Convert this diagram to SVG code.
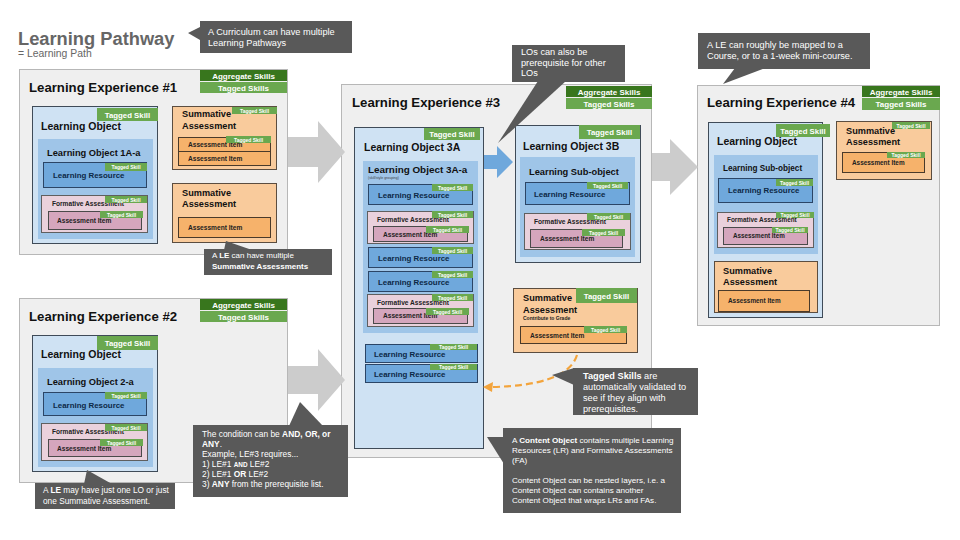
<svg xmlns="http://www.w3.org/2000/svg" width="960" height="540" viewBox="0 0 960 540">
<style>
text{font-family:"Liberation Sans",Arial,Helvetica,sans-serif}
.le{fill:#efefef;stroke:#b7b7b7;stroke-width:1}
.lo{fill:#cfe2f3;stroke:#3f4b58;stroke-width:1}
.sub{fill:#9fc5e8}
.lr{fill:#6fa8dc;stroke:#2b4566;stroke-width:1}
.fa{fill:#ead1dc;stroke:#5f5f5f;stroke-width:1}
.fai{fill:#d5a6bd;stroke:#4a4a4a;stroke-width:1}
.sa{fill:#f9cb9c;stroke:#5b4d40;stroke-width:1}
.sai{fill:#f6b26b;stroke:#4a3a2a;stroke-width:1}
.tg{fill:#6aa84f}
.ag{fill:#38761d}
.co{fill:#595959}
.arr{fill:#cccccc}
.h1{font-size:13.2px;font-weight:bold;fill:#111}
.lot{font-size:10.5px;font-weight:bold;fill:#111}
.subt{font-size:9.3px;font-weight:bold;fill:#111}
.lrt{font-size:7.9px;font-weight:bold;fill:#0d2846}
.fat{font-size:6.6px;font-weight:bold;fill:#222}
.sat{font-size:9.2px;font-weight:bold;fill:#111}
.tgs{font-size:5px;font-weight:bold;fill:#fff;text-anchor:middle}
.tgl{font-size:7.8px;font-weight:bold;fill:#fff;text-anchor:middle}
.sk{font-size:8px;font-weight:bold;fill:#fff;text-anchor:middle}
.ct{font-size:9.2px;fill:#fff}
.cs{font-size:8.3px;fill:#fff}
.bd{font-weight:bold}
</style>

<g id="title">
<text x="18" y="45" style="font-size:18.3px;font-weight:bold;fill:#666">Learning Pathway</text>
<text x="18" y="57" style="font-size:10.4px;fill:#666">= Learning Path</text>
</g>

<!-- Learning Experience #1 -->
<g id="le1">
<rect class="le" x="19.5" y="69.5" width="268" height="185"/>
<rect class="ag" x="200" y="70" width="87" height="11"/>
<text class="sk" x="243.5" y="78.5">Aggregate Skills</text>
<rect class="tg" x="200" y="82" width="87" height="11"/>
<text class="sk" x="243.5" y="90.5">Tagged Skills</text>
<text class="h1" x="29" y="92">Learning Experience #1</text>
</g>
<g id="le1-lo">
<rect class="lo" x="32.5" y="106.5" width="125" height="137"/>
<rect class="tg" x="97" y="108" width="61" height="13"/>
<text class="tgl" x="127.5" y="117.5">Tagged Skill</text>
<text class="lot" x="41" y="130">Learning Object</text>
<rect class="sub" x="38" y="139" width="115" height="100"/>
<text class="subt" x="47" y="156">Learning Object 1A-a</text>
<rect class="lr" x="43.5" y="162.5" width="103" height="25"/>
<rect class="tg" x="105" y="163" width="42" height="8"/>
<text class="tgs" x="126" y="169">Tagged Skill</text>
<text class="lrt" x="53" y="178">Learning Resource</text>
<rect class="fa" x="41.5" y="195.5" width="106" height="37"/>
<text class="fat" x="52" y="206">Formative Assessment</text>
<rect class="tg" x="105" y="196" width="42" height="7"/>
<text class="tgs" x="126" y="201.5">Tagged Skill</text>
<rect class="fai" x="48.5" y="211.5" width="93" height="18"/>
<text class="fat" x="57" y="223">Assessment Item</text>
<rect class="tg" x="100" y="211" width="43" height="7"/>
<text class="tgs" x="121.5" y="216.5">Tagged Skill</text>
</g>
<g id="le1-sa1">
<rect class="sa" x="172.5" y="106.5" width="104" height="63"/>
<rect class="tg" x="232" y="107" width="45" height="7"/>
<text class="tgs" x="254.5" y="112.5">Tagged Skill</text>
<text class="sat" x="182" y="117">Summative</text>
<text class="sat" x="182" y="129">Assessment</text>
<rect class="sai" x="178.5" y="137.5" width="92" height="14"/>
<text class="fat" x="188" y="147">Assessment Item</text>
<rect class="tg" x="226" y="136" width="45" height="7"/>
<text class="tgs" x="248.5" y="141.5">Tagged Skill</text>
<rect class="sai" x="178.5" y="151.5" width="92" height="14"/>
<text class="fat" x="188" y="161">Assessment Item</text>
</g>
<g id="le1-sa2">
<rect class="sa" x="172.5" y="183.5" width="104" height="59"/>
<text class="sat" x="182" y="196">Summative</text>
<text class="sat" x="182" y="207">Assessment</text>
<rect class="sai" x="178.5" y="217.5" width="92" height="20"/>
<text class="fat" x="188" y="230">Assessment Item</text>
</g>

<!-- Learning Experience #2 -->
<g id="le2">
<rect class="le" x="19.5" y="298.5" width="268" height="184"/>
<rect class="ag" x="200" y="299" width="87" height="11"/>
<text class="sk" x="243.5" y="307.5">Aggregate Skills</text>
<rect class="tg" x="200" y="311" width="87" height="11"/>
<text class="sk" x="243.5" y="319.5">Tagged Skills</text>
<text class="h1" x="29" y="321">Learning Experience #2</text>
</g>
<g id="le2-lo">
<rect class="lo" x="32.5" y="335.5" width="125" height="136"/>
<rect class="tg" x="97" y="336" width="61" height="14"/>
<text class="tgl" x="127.5" y="346">Tagged Skill</text>
<text class="lot" x="41" y="358">Learning Object</text>
<rect class="sub" x="38" y="368" width="115" height="99"/>
<text class="subt" x="47" y="385">Learning Object 2-a</text>
<rect class="lr" x="43.5" y="392.5" width="103" height="23"/>
<rect class="tg" x="105" y="392" width="42" height="7"/>
<text class="tgs" x="126" y="397.5">Tagged Skill</text>
<text class="lrt" x="53" y="408">Learning Resource</text>
<rect class="fa" x="41.5" y="423.5" width="106" height="37"/>
<text class="fat" x="52" y="434">Formative Assessment</text>
<rect class="tg" x="105" y="424" width="42" height="7"/>
<text class="tgs" x="126" y="429.5">Tagged Skill</text>
<rect class="fai" x="48.5" y="439.5" width="93" height="17"/>
<text class="fat" x="57" y="451">Assessment Item</text>
<rect class="tg" x="100" y="439" width="43" height="7"/>
<text class="tgs" x="121.5" y="444.5">Tagged Skill</text>
</g>

<!-- Learning Experience #3 -->
<g id="le3">
<rect class="le" x="341.5" y="84.5" width="310" height="373"/>
<rect class="ag" x="566" y="86" width="86" height="11"/>
<text class="sk" x="609" y="94.5">Aggregate Skills</text>
<rect class="tg" x="566" y="98" width="86" height="11"/>
<text class="sk" x="609" y="106.5">Tagged Skills</text>
<text class="h1" x="352" y="107">Learning Experience #3</text>
</g>
<g id="le3-lo3a">
<rect class="lo" x="354.5" y="127.5" width="129" height="321"/>
<rect class="tg" x="424" y="128" width="56" height="12"/>
<text class="tgl" x="452" y="137">Tagged Skill</text>
<text class="lot" x="364" y="151">Learning Object 3A</text>
<rect class="sub" x="363" y="161" width="115" height="172"/>
<text class="subt" x="368" y="173" style="font-size:9.9px">Learning Object 3A-a</text>
<text x="368" y="179" style="font-size:3.5px;fill:#444">(skill/style grouping)</text>
<rect class="lr" x="368.5" y="184.5" width="104" height="20"/>
<rect class="tg" x="432" y="184" width="41" height="7"/>
<text class="tgs" x="452.5" y="189.5">Tagged Skill</text>
<text class="lrt" x="378" y="198">Learning Resource</text>
<rect class="fa" x="367.5" y="211.5" width="106" height="32"/>
<text class="fat" x="377" y="222">Formative Assessment</text>
<rect class="tg" x="432" y="211" width="41" height="7"/>
<text class="tgs" x="452.5" y="216.5">Tagged Skill</text>
<rect class="fai" x="373.5" y="226.5" width="94" height="15"/>
<text class="fat" x="383" y="237">Assessment Item</text>
<rect class="tg" x="426" y="226" width="43" height="7"/>
<text class="tgs" x="447.5" y="231.5">Tagged Skill</text>
<rect class="lr" x="368.5" y="247.5" width="104" height="20"/>
<rect class="tg" x="432" y="247" width="41" height="7"/>
<text class="tgs" x="452.5" y="252.5">Tagged Skill</text>
<text class="lrt" x="378" y="261">Learning Resource</text>
<rect class="lr" x="368.5" y="271.5" width="104" height="20"/>
<rect class="tg" x="432" y="271" width="41" height="7"/>
<text class="tgs" x="452.5" y="276.5">Tagged Skill</text>
<text class="lrt" x="378" y="285">Learning Resource</text>
<rect class="fa" x="367.5" y="294.5" width="106" height="32"/>
<text class="fat" x="377" y="305">Formative Assessment</text>
<rect class="tg" x="432" y="294" width="41" height="7"/>
<text class="tgs" x="452.5" y="299.5">Tagged Skill</text>
<rect class="fai" x="373.5" y="308.5" width="94" height="15"/>
<text class="fat" x="383" y="318">Assessment Item</text>
<rect class="tg" x="426" y="308" width="43" height="7"/>
<text class="tgs" x="447.5" y="313.5">Tagged Skill</text>
<rect class="lr" x="365.5" y="344.5" width="112" height="18"/>
<text class="lrt" x="374" y="357">Learning Resource</text>
<rect class="tg" x="430" y="344" width="47" height="6"/>
<text class="tgs" x="453.5" y="349">Tagged Skill</text>
<rect class="lr" x="365.5" y="364.5" width="112" height="18"/>
<text class="lrt" x="374" y="377">Learning Resource</text>
<rect class="tg" x="430" y="364" width="47" height="6"/>
<text class="tgs" x="453.5" y="369">Tagged Skill</text>
</g>
<g id="le3-lo3b">
<rect class="lo" x="515.5" y="125.5" width="125" height="137"/>
<rect class="tg" x="579" y="125" width="61" height="14"/>
<text class="tgl" x="609.5" y="135">Tagged Skill</text>
<text class="lot" x="523" y="150">Learning Object 3B</text>
<rect class="sub" x="520" y="157" width="115" height="100"/>
<text class="subt" x="529" y="175">Learning Sub-object</text>
<rect class="lr" x="525.5" y="182.5" width="104" height="22"/>
<rect class="tg" x="587" y="182" width="41" height="7"/>
<text class="tgs" x="607.5" y="187.5">Tagged Skill</text>
<text class="lrt" x="534" y="197">Learning Resource</text>
<rect class="fa" x="524.5" y="213.5" width="106" height="36"/>
<text class="fat" x="534" y="224">Formative Assessment</text>
<rect class="tg" x="587" y="213" width="43" height="7"/>
<text class="tgs" x="608.5" y="218.5">Tagged Skill</text>
<rect class="fai" x="530.5" y="229.5" width="92" height="18"/>
<text class="fat" x="540" y="241">Assessment Item</text>
<rect class="tg" x="582" y="229" width="43" height="7"/>
<text class="tgs" x="603.5" y="234.5">Tagged Skill</text>
</g>
<g id="le3-sa">
<rect class="sa" x="513.5" y="288.5" width="124" height="64"/>
<rect class="tg" x="576" y="288" width="61" height="15"/>
<text class="tgl" x="606.5" y="298.5">Tagged Skill</text>
<text class="sat" x="523" y="301">Summative</text>
<text class="sat" x="523" y="313">Assessment</text>
<text x="523" y="320" style="font-size:5px;font-weight:bold;fill:#222">Contribute to Grade</text>
<rect class="sai" x="520.5" y="326.5" width="106" height="17"/>
<text class="fat" x="530" y="338">Assessment Item</text>
<rect class="tg" x="584" y="326" width="43" height="7"/>
<text class="tgs" x="605.5" y="331.5">Tagged Skill</text>
</g>

<!-- Learning Experience #4 -->
<g id="le4">
<rect class="le" x="697.5" y="85.5" width="242" height="240"/>
<rect class="ag" x="862" y="86" width="78" height="11"/>
<text class="sk" x="901" y="94.5">Aggregate Skills</text>
<rect class="tg" x="862" y="98" width="78" height="12"/>
<text class="sk" x="901" y="107">Tagged Skills</text>
<text class="h1" x="707" y="107">Learning Experience #4</text>
</g>
<g id="le4-lo">
<rect class="lo" x="708.5" y="122.5" width="114" height="195"/>
<rect class="tg" x="776" y="124" width="54" height="13"/>
<text class="tgl" x="803" y="133.5">Tagged Skill</text>
<text class="lot" x="717" y="145">Learning Object</text>
<rect class="sub" x="714" y="155" width="104" height="99"/>
<text class="subt" x="723" y="171" style="font-size:8.2px">Learning Sub-object</text>
<rect class="lr" x="718.5" y="178.5" width="94" height="24"/>
<rect class="tg" x="776" y="179" width="37" height="7"/>
<text class="tgs" x="794.5" y="184.5">Tagged Skill</text>
<text class="lrt" x="728" y="193">Learning Resource</text>
<rect class="fa" x="717.5" y="212.5" width="96" height="35"/>
<text class="fat" x="727" y="222" style="font-size:6.4px">Formative Assessment</text>
<rect class="tg" x="776" y="212" width="38" height="6"/>
<text class="tgs" x="795" y="217">Tagged Skill</text>
<rect class="fai" x="723.5" y="227.5" width="84" height="17"/>
<text class="fat" x="733" y="238" style="font-size:6.3px">Assessment Item</text>
<rect class="tg" x="772" y="227" width="36" height="6"/>
<text class="tgs" x="790" y="232">Tagged Skill</text>
<rect class="sa" x="714.5" y="261.5" width="103" height="51"/>
<text class="sat" x="723" y="274">Summative</text>
<text class="sat" x="723" y="285">Assessment</text>
<rect class="sai" x="718.5" y="290.5" width="91" height="21"/>
<text class="fat" x="728" y="303" style="font-size:6.4px">Assessment Item</text>
</g>
<g id="le4-sa">
<rect class="sa" x="836.5" y="121.5" width="95" height="58"/>
<text class="sat" x="846" y="134">Summative</text>
<rect class="tg" x="892" y="122" width="38" height="7"/>
<text class="tgs" x="911" y="127.5">Tagged Skill</text>
<text class="sat" x="846" y="145">Assessment</text>
<rect class="sai" x="842.5" y="152.5" width="82" height="20"/>
<text class="fat" x="852" y="165" style="font-size:6.4px">Assessment Item</text>
<rect class="tg" x="887" y="152" width="38" height="6"/>
<text class="tgs" x="906" y="157">Tagged Skill</text>
</g>

<!-- Connectors -->
<g id="connectors">
<polygon class="arr" points="288,137 318,137 318,121 345,152 318,183 318,167 288,167"/>
<polygon class="arr" points="288,366 318,366 318,349 345,380 318,411 318,394 288,394"/>
<polygon class="arr" points="652,153 670,153 670,139 698,167 670,195 670,181 652,181"/>
<polygon points="484,155 497,155 497,146 513,162 497,178 497,169 484,169" fill="#6fa8dc"/>
<path d="M577,355 C570,378 535,386 492,387" fill="none" stroke="#f3a43c" stroke-width="2.2" stroke-dasharray="7,4"/>
<polygon points="483,387 493,382 492,392" fill="#f3a43c"/>
</g>

<!-- Callouts -->
<g id="callout-curriculum">
<rect class="co" x="200" y="21" width="152" height="32"/>
<polygon class="co" points="200,27 200,40 188,33"/>
<text class="ct" x="208" y="35">A Curriculum can have multiple</text>
<text class="ct" x="208" y="46">Learning Pathways</text>
</g>
<g id="callout-lo-prereq">
<rect class="co" x="512" y="45" width="113" height="37"/>
<polygon class="co" points="538,81 566,81 498,143"/>
<text class="ct" x="521" y="55">LOs can also be</text>
<text class="ct" x="521" y="66">prerequisite for other</text>
<text class="ct" x="521" y="76">LOs</text>
</g>
<g id="callout-le-course">
<rect class="co" x="698" y="33" width="172" height="36"/>
<polygon class="co" points="735,68 765,68 723,84"/>
<text class="ct" x="707" y="48">A LE can roughly be mapped to a</text>
<text class="ct" x="707" y="59">Course, or to a 1-week mini-course.</text>
</g>
<g id="callout-le-multi-sa">
<rect class="co" x="204" y="249" width="128" height="26"/>
<polygon class="co" points="224,250 252,250 226,241"/>
<text class="cs" x="212" y="258" style="font-size:8px">A <tspan class="bd">LE</tspan> can have multiple</text>
<text class="cs bd" x="212" y="269" style="font-size:8px">Summative Assessments</text>
</g>
<g id="callout-le-one">
<rect class="co" x="35" y="483" width="140" height="26"/>
<polygon class="co" points="84,484 112,484 87,470"/>
<text class="cs" x="43" y="493">A <tspan class="bd">LE</tspan> may have just one LO or just</text>
<text class="cs" x="43" y="504">one Summative Assessment.</text>
</g>
<g id="callout-condition">
<rect class="co" x="193" y="425" width="155" height="72"/>
<polygon class="co" points="289,426 323,426 300,402"/>
<text class="cs" x="202" y="437" style="font-size:8.4px">The condition can be <tspan class="bd">AND, OR, or</tspan></text>
<text class="cs bd" x="202" y="447" style="font-size:8.4px">ANY<tspan style="font-weight:normal">.</tspan></text>
<text class="cs" x="202" y="457" style="font-size:8.4px">Example, LE#3 requires...</text>
<text class="cs" x="202" y="467" style="font-size:8.4px">1) LE#1 <tspan class="bd" style="font-size:6.4px">AND</tspan> LE#2</text>
<text class="cs" x="202" y="477" style="font-size:8.4px">2) LE#1 <tspan class="bd">OR</tspan> LE#2</text>
<text class="cs" x="202" y="487" style="font-size:8.4px">3) <tspan class="bd">ANY</tspan> from the prerequisite list.</text>
</g>
<g id="callout-tagged-validated">
<rect class="co" x="573" y="368" width="125" height="47"/>
<polygon class="co" points="574,368 574,385 552,375"/>
<text class="ct" x="583" y="379"><tspan class="bd">Tagged Skills</tspan> are</text>
<text class="ct" x="583" y="390">automatically validated to</text>
<text class="ct" x="583" y="401">see if they align with</text>
<text class="ct" x="583" y="412">prerequisites.</text>
</g>
<g id="callout-content-object">
<rect class="co" x="503" y="428" width="178" height="85"/>
<polygon class="co" points="504,437 504,464 487,437"/>
<text class="cs" x="512" y="443" style="font-size:8.1px">A <tspan class="bd">Content Object</tspan> contains multiple Learning</text>
<text class="cs" x="512" y="453" style="font-size:8.1px">Resources (LR) and Formative Assessments</text>
<text class="cs" x="512" y="463" style="font-size:8.1px">(FA)</text>
<text class="cs" x="512" y="483" style="font-size:8.1px">Content Object can be nested layers, i.e. a</text>
<text class="cs" x="512" y="493" style="font-size:8.1px">Content Object can contains another</text>
<text class="cs" x="512" y="503" style="font-size:8.1px">Content Object that wraps LRs and FAs.</text>
</g>
</svg>
